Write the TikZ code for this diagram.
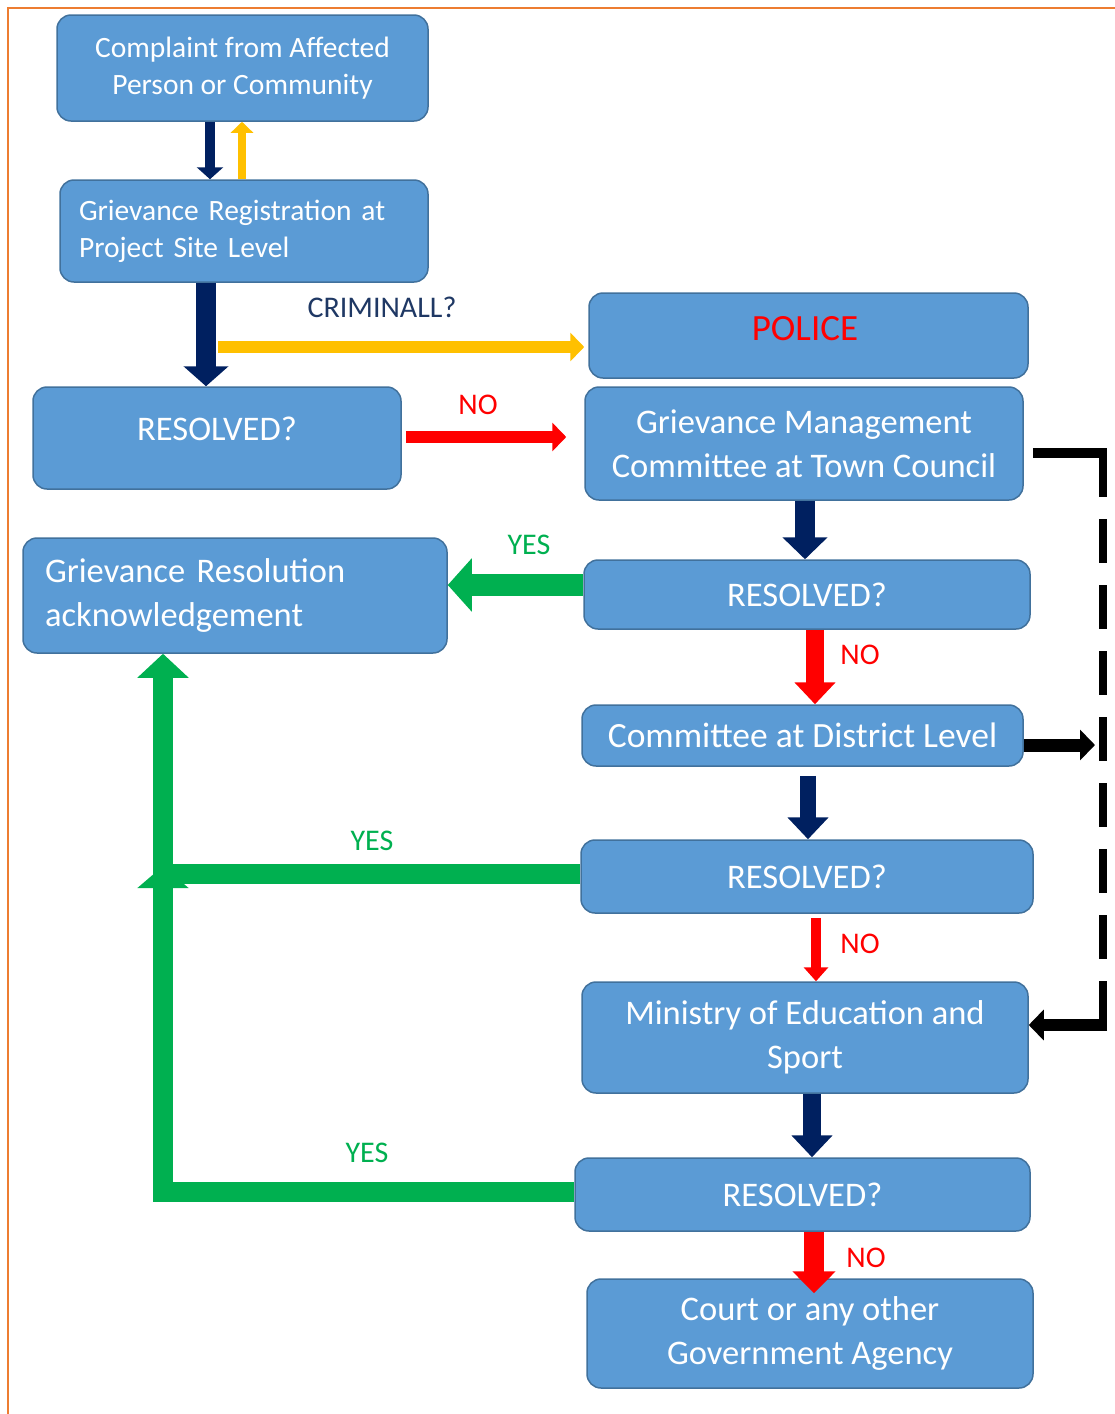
\documentclass[tikz,border=0pt]{standalone}
\usepackage{fontspec}
\setmainfont{Carlito}
\usetikzlibrary{arrows.meta,calc}
\definecolor{boxfill}{HTML}{5B9BD5}
\definecolor{boxline}{HTML}{41719C}
\definecolor{navy}{HTML}{002060}
\definecolor{amber}{HTML}{FFC000}
\definecolor{redc}{HTML}{FF0000}
\definecolor{greenc}{HTML}{00B050}
\definecolor{framec}{HTML}{ED7D31}
\definecolor{crim}{HTML}{1F3864}
\newcommand\fontA{\fontsize{29.5}{37}\selectfont}
\newcommand\fontB{\fontsize{34.5}{44}\selectfont}
\newcommand\fontL{\fontsize{30}{32}\selectfont}
\tikzset{
  box/.style={draw=boxline, line width=1.5pt, fill=boxfill, rounded corners=14pt,
    text=white, inner sep=0pt, align=center},
  lbl/.style={inner sep=0pt, font=\fontL},
  arr/.style n args={4}{draw=#1, line width=#2, -{Triangle[width=#3,length=#4]}},
}
\begin{document}
\begin{tikzpicture}[x=1pt,y=-1pt]
\useasboundingbox (0,0) rectangle (1115,1414);
\draw[framec, line width=2pt] (8,1414) -- (8,8) -- (1115,8);

% boxes
\node[box, minimum width=371pt, minimum height=106pt, font=\fontA] (cmp) at (242.5,68) {Complaint from Affected\\Person or Community};
\node[box, minimum width=368pt, minimum height=102pt, font=\fontA, text width=330pt, align=left] (reg) at (244,231) {Grievance Registration at\\Project Site Level};
\node[box, minimum width=439pt, minimum height=85pt, text=redc] (pol) at (808.5,335.5) {};
\node[font=\fontsize{37}{44}\selectfont, text=redc, inner sep=0pt] (poltxt) at (805,329) {POLICE};
\node[box, minimum width=368pt, minimum height=102pt] (r1) at (217,438) {};
\node[font=\fontB, text=white, inner sep=0pt] (r1txt) at (217,429) {RESOLVED?};
\node[box, minimum width=438pt, minimum height=113pt, font=\fontB] (gmc) at (804,443.5) {Grievance Management\\Committee at Town Council};
\node[box, minimum width=424pt, minimum height=115pt, font=\fontB, text width=380pt, align=left] (ack) at (235,595.5) {Grievance Resolution\\acknowledgement};
\node[box, minimum width=446pt, minimum height=69pt, font=\fontB] (r2) at (807,594.5) {RESOLVED?};
\node[box, minimum width=441pt, minimum height=61pt, font=\fontsize{35.5}{44}\selectfont] (dist) at (802.5,735.5) {Committee at District Level};
\node[box, minimum width=452pt, minimum height=73pt, font=\fontB] (r3) at (807,876.5) {RESOLVED?};
\node[box, minimum width=446pt, minimum height=111pt, font=\fontB] (min) at (805,1037.5) {Ministry of Education and\\Sport};
\node[box, minimum width=455pt, minimum height=73pt, font=\fontB] (r4) at (802.5,1194.5) {RESOLVED?};
\node[box, minimum width=446pt, minimum height=109pt, font=\fontB] (court) at (810,1333.5) {Court or any other\\Government Agency};

% labels
\node[lbl, text=crim] (crimlbl) at (382,307) {CRIMINALL?};
\node[lbl, text=redc] (no1) at (478,405) {NO};
\node[lbl, text=greenc] (yes1) at (529,545) {YES};
\node[lbl, text=redc] (no2) at (860,655) {NO};
\node[lbl, text=greenc] (yes2) at (372,841) {YES};
\node[lbl, text=redc] (no3) at (860,944) {NO};
\node[lbl, text=greenc] (yes3) at (367,1153) {YES};
\node[lbl, text=redc] (no4) at (866,1258) {NO};

% vertical main flow
\draw[arr={navy}{10pt}{26pt}{12pt}] (210,0 |- cmp.south) -- (210,0 |- reg.north);
\draw[arr={amber}{8pt}{22pt}{11pt}] (242,0 |- reg.north) -- (242,0 |- cmp.south);
\draw[arr={navy}{20pt}{44pt}{20pt}] (206,0 |- reg.south) -- (206,0 |- r1.north);
\coordinate (cstart) at (218,347);
\draw[arr={amber}{12pt}{28pt}{14pt}, shorten >=4pt] (cstart) -- (cstart -| pol.west);
\draw[arr={redc}{12pt}{28pt}{14pt}, shorten <=4pt, shorten >=18pt] (r1.east |- 0,437) -- (gmc.west |- 0,437);
\draw[arr={navy}{20pt}{44pt}{22pt}] (805,0 |- gmc.south) -- (805,0 |- r2.north);
\draw[arr={greenc}{22pt}{52pt}{24pt}] (r2.west |- 0,585) -- (ack.east |- 0,585);
\draw[arr={redc}{18pt}{40pt}{22pt}] (815,0 |- r2.south) -- (815,0 |- dist.north);
\draw[arr={navy}{16pt}{40pt}{22pt}, shorten <=9pt] (808,0 |- dist.south) -- (808,0 |- r3.north);
\draw[arr={redc}{10pt}{24pt}{14pt}, shorten <=4pt] (816,0 |- r3.south) -- (816,0 |- min.north);
\draw[arr={navy}{18pt}{40pt}{22pt}] (812,0 |- min.south) -- (812,0 |- r4.north);
\draw[arr={redc}{20pt}{42pt}{22pt}, shorten >=-15pt] (814,0 |- r4.south) -- (814,0 |- court.north);

% escalation path
\coordinate (dr) at (1095,745);
\draw[arr={black}{13pt}{30pt}{15pt}] (dist.east |- dr) -- (dr);
\coordinate (dtop) at (1103,453);
\coordinate (dbot) at (1103,1025);
\draw[black, line width=10pt] ([xshift=9pt]gmc.east |- dtop) -- ([xshift=4pt]dtop);
\draw[black, line width=8pt, dash pattern=on 44pt off 22pt] (dtop) -- (dbot);
\draw[arr={black}{12pt}{30pt}{15pt}] ([xshift=4pt]dbot) -- (min.east |- dbot);

% green return paths
\coordinate (gcorner) at (163,874);
\coordinate (gbot) at (163,1192);
\draw[arr={greenc}{20pt}{50pt}{22pt}] (r4.west |- gbot) -- (gbot) -- (163,866);
\draw[arr={greenc}{20pt}{50pt}{24pt}] (r3.west |- gcorner) -- (gcorner) -- (163,0 |- ack.south);
\end{tikzpicture}
\end{document}
